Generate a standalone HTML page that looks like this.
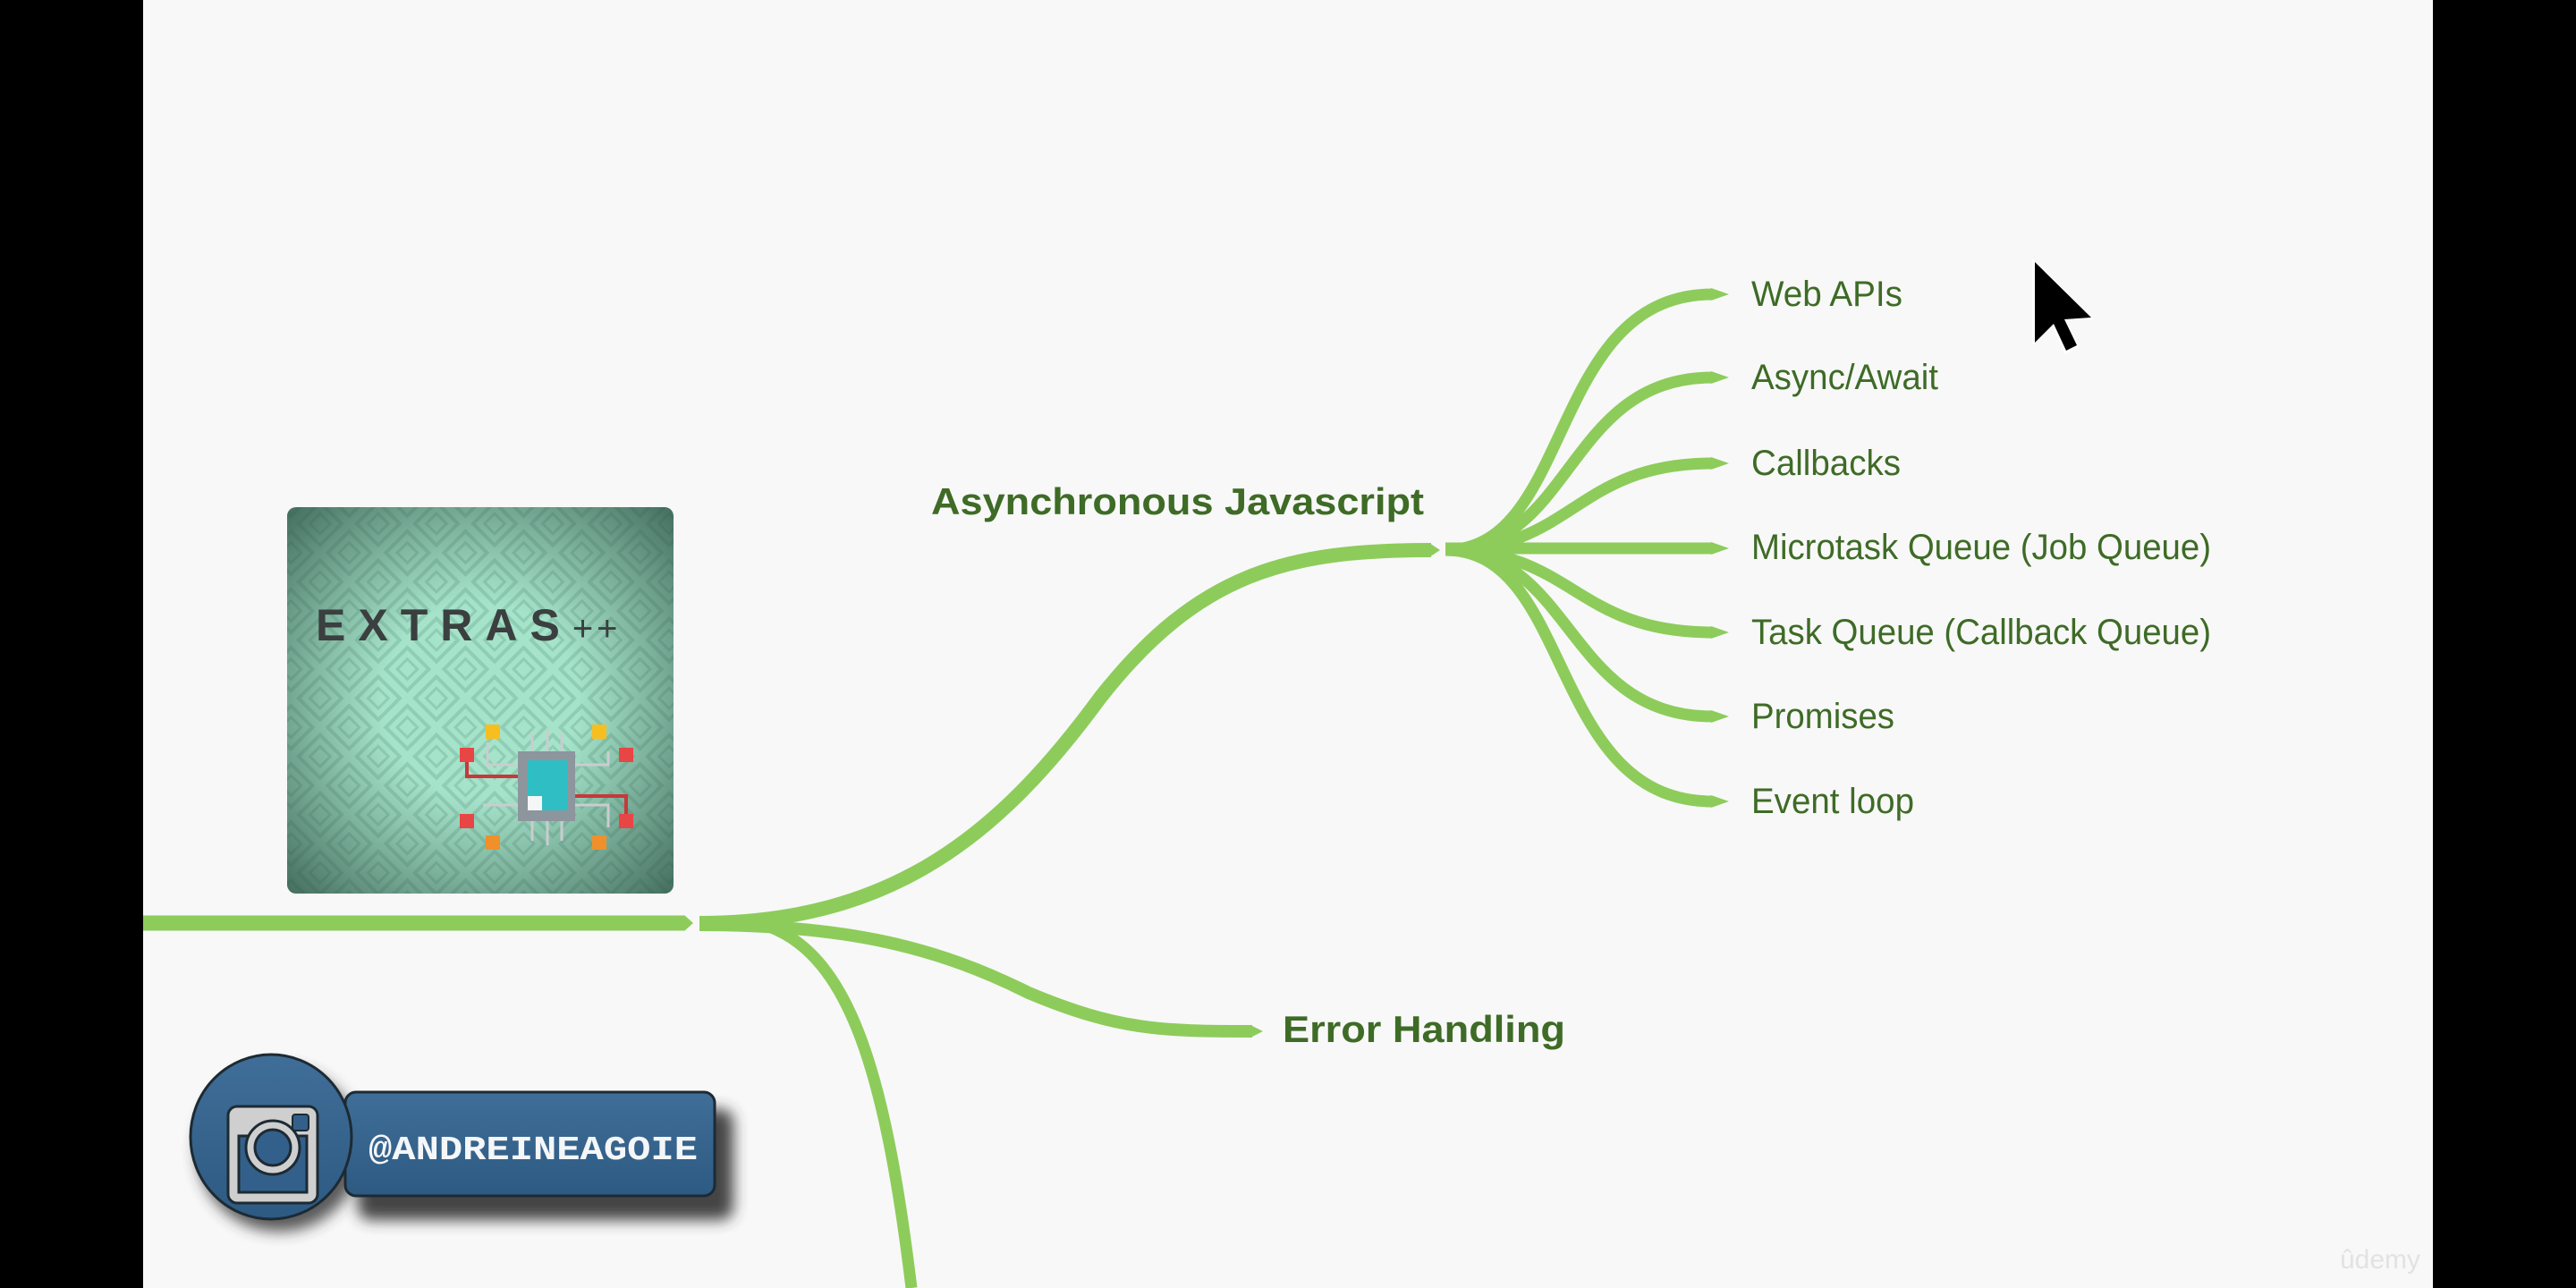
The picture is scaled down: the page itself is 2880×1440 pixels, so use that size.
<!DOCTYPE html>
<html><head><meta charset="utf-8">
<style>
html,body{margin:0;padding:0;background:#000;}
svg{display:block}
</style></head>
<body>
<svg width="2880" height="1440" viewBox="0 0 2880 1440" xmlns="http://www.w3.org/2000/svg">
<defs>
  <pattern id="dia" width="46" height="46" patternUnits="userSpaceOnUse" patternTransform="rotate(45)">
    <rect width="46" height="46" fill="#a6e3cb"/>
    <rect x="6" y="6" width="34" height="34" fill="none" stroke="#8fcdb4" stroke-width="4"/>
    <rect x="15" y="15" width="16" height="16" fill="none" stroke="#8fcdb4" stroke-width="3"/>
  </pattern>
  <radialGradient id="vig" cx="0.5" cy="0.5" r="0.72">
    <stop offset="0.35" stop-color="#3e6655" stop-opacity="0"/>
    <stop offset="1" stop-color="#2f5446" stop-opacity="0.85"/>
  </radialGradient>
  <filter id="sh" x="-20%" y="-20%" width="150%" height="160%">
    <feGaussianBlur stdDeviation="8"/>
  </filter>
  <linearGradient id="blue" x1="0" y1="0" x2="0" y2="1">
    <stop offset="0" stop-color="#3f6e98"/>
    <stop offset="1" stop-color="#2d5a82"/>
  </linearGradient>
</defs>

<rect x="0" y="0" width="2880" height="1440" fill="#000"/>
<rect x="160" y="0" width="2560" height="1440" fill="#f8f8f8"/>

<!-- connectors -->
<g fill="none" stroke="#8dcc5b" stroke-linecap="butt">
  <path d="M160 1032 L765 1032" stroke-width="17"/>
  <path d="M782 1032 C1000 1032 1120 930 1230 780 C1340 640 1440 615 1600 615" stroke-width="16"/>
  <path d="M782 1034 C950 1034 1050 1060 1150 1110 C1250 1152 1300 1153 1400 1153" stroke-width="14"/>
  <path d="M860 1036 C950 1070 990 1200 1019 1440" stroke-width="13"/>
  <path d="M1616 615 C1760 615 1730 329 1915 329" stroke-width="13"/>
  <path d="M1616 615 C1760 615 1750 422 1915 422" stroke-width="13"/>
  <path d="M1616 615 C1760 615 1760 518 1915 518" stroke-width="13"/>
  <path d="M1616 613 L1915 613" stroke-width="13"/>
  <path d="M1616 615 C1760 615 1760 707 1915 707" stroke-width="13"/>
  <path d="M1616 615 C1760 615 1750 801 1915 801" stroke-width="13"/>
  <path d="M1616 615 C1760 615 1730 896 1915 896" stroke-width="13"/>
</g>
<g fill="#8dcc5b">
  <polygon points="765,1023 775,1032 765,1041"/>
  <polygon points="1598,607 1610,615 1598,623"/>
  <polygon points="1398,1146 1412,1153 1398,1160"/>
  <polygon points="1913,322 1933,329 1913,336"/>
  <polygon points="1913,415 1933,422 1913,429"/>
  <polygon points="1913,511 1933,518 1913,525"/>
  <polygon points="1913,606 1933,613 1913,620"/>
  <polygon points="1913,700 1933,707 1913,714"/>
  <polygon points="1913,794 1933,801 1913,808"/>
  <polygon points="1913,889 1933,896 1913,903"/>
</g>

<!-- labels -->
<g font-family="Liberation Sans, Arial, sans-serif" fill="#3e6b26">
  <text x="1041" y="575" font-size="42" font-weight="bold" textLength="551" lengthAdjust="spacingAndGlyphs">Asynchronous Javascript</text>
  <text x="1434" y="1165" font-size="42" font-weight="bold" textLength="316" lengthAdjust="spacingAndGlyphs">Error Handling</text>
  <g font-size="40">
    <text x="1958" y="342" textLength="169" lengthAdjust="spacingAndGlyphs">Web APIs</text>
    <text x="1958" y="435" textLength="209" lengthAdjust="spacingAndGlyphs">Async/Await</text>
    <text x="1958" y="531" textLength="167" lengthAdjust="spacingAndGlyphs">Callbacks</text>
    <text x="1958" y="625" textLength="514" lengthAdjust="spacingAndGlyphs">Microtask Queue (Job Queue)</text>
    <text x="1958" y="720" textLength="514" lengthAdjust="spacingAndGlyphs">Task Queue (Callback Queue)</text>
    <text x="1958" y="814" textLength="160" lengthAdjust="spacingAndGlyphs">Promises</text>
    <text x="1958" y="909" textLength="182" lengthAdjust="spacingAndGlyphs">Event loop</text>
  </g>
</g>

<!-- Extras++ image -->
<g>
  <rect x="321" y="567" width="432" height="432" rx="10" fill="url(#dia)"/>
  <rect x="321" y="567" width="432" height="432" rx="10" fill="url(#vig)"/>
  <text x="353" y="716" font-family="Liberation Sans, Arial, sans-serif" font-weight="bold" font-size="50" fill="#3b3f3f" letter-spacing="14">EXTRAS<tspan font-size="40" font-weight="normal" letter-spacing="4">++</tspan></text>
  <!-- chip -->
  <g stroke="#c9cdd0" stroke-width="3" fill="none">
    <path d="M595 840 V820 M612 840 V815 M628 840 V820 M595 918 V940 M612 918 V945 M628 918 V940"/>
    <path d="M579 855 H545 V830 M579 900 H540 M643 900 H680 V925 M643 855 H680 V840"/>
  </g>
  <g stroke="#c8383a" stroke-width="4" fill="none">
    <path d="M522 846 V868 H579"/>
    <path d="M643 890 H700 V918"/>
  </g>
  <rect x="579" y="840" width="64" height="78" fill="#8d959d"/>
  <rect x="590" y="850" width="44" height="56" fill="#2fbec3"/>
  <rect x="590" y="890" width="16" height="16" fill="#f4f6f7"/>
  <g fill="#e84545">
    <rect x="514" y="836" width="16" height="16"/>
    <rect x="692" y="836" width="16" height="16"/>
    <rect x="514" y="910" width="16" height="16"/>
    <rect x="692" y="910" width="16" height="16"/>
  </g>
  <g fill="#f7be20">
    <rect x="543" y="810" width="16" height="16"/>
    <rect x="662" y="810" width="16" height="16"/>
  </g>
  <g fill="#f0902a">
    <rect x="543" y="934" width="16" height="16"/>
    <rect x="662" y="934" width="16" height="16"/>
  </g>
</g>

<!-- instagram badge -->
<g>
  <rect x="400" y="1240" width="420" height="124" rx="14" fill="#333" filter="url(#sh)" opacity="0.9"/>
  <circle cx="312" cy="1285" r="92" fill="#333" filter="url(#sh)" opacity="0.8"/>
  <rect x="386" y="1221" width="413" height="116" rx="12" fill="url(#blue)" stroke="#1d2a33" stroke-width="3"/>
  <ellipse cx="303" cy="1271" rx="90" ry="92" fill="url(#blue)" stroke="#1d2a33" stroke-width="3"/>
  <rect x="255" y="1237" width="100" height="108" rx="10" fill="#cfcfcf" stroke="#1d2a33" stroke-width="3"/>
  <rect x="267" y="1270" width="76" height="63" fill="#33608a" stroke="#1d2a33" stroke-width="3"/>
  <circle cx="305" cy="1283" r="30" fill="#cfcfcf" stroke="#1d2a33" stroke-width="3"/>
  <circle cx="305" cy="1283" r="20" fill="#33608a" stroke="#1d2a33" stroke-width="3"/>
  <rect x="327" y="1246" width="18" height="18" rx="3" fill="#33608a" stroke="#1d2a33" stroke-width="2"/>
  <text x="412" y="1296" font-family="Liberation Mono, DejaVu Sans Mono, monospace" font-weight="bold" font-size="38" fill="#f4f6f8" textLength="368" lengthAdjust="spacingAndGlyphs">@ANDREINEAGOIE</text>
</g>

<!-- cursor -->
<path d="M2275 293 L2275 390 L2297 368 L2312 400 L2328 392 L2313 361 L2344 361 Z" fill="#fff" opacity="0.9" transform="translate(-3 -4)"/>
<path d="M2275 293 L2275 383 L2296 362 L2310 392 L2322 386 L2308 357 L2338 355 Z" fill="#000"/>

<!-- udemy watermark -->
<text x="2616" y="1418" font-family="Liberation Sans, Arial, sans-serif" font-size="30" fill="#e2e2e2">ûdemy</text>
</svg>
</body></html>
